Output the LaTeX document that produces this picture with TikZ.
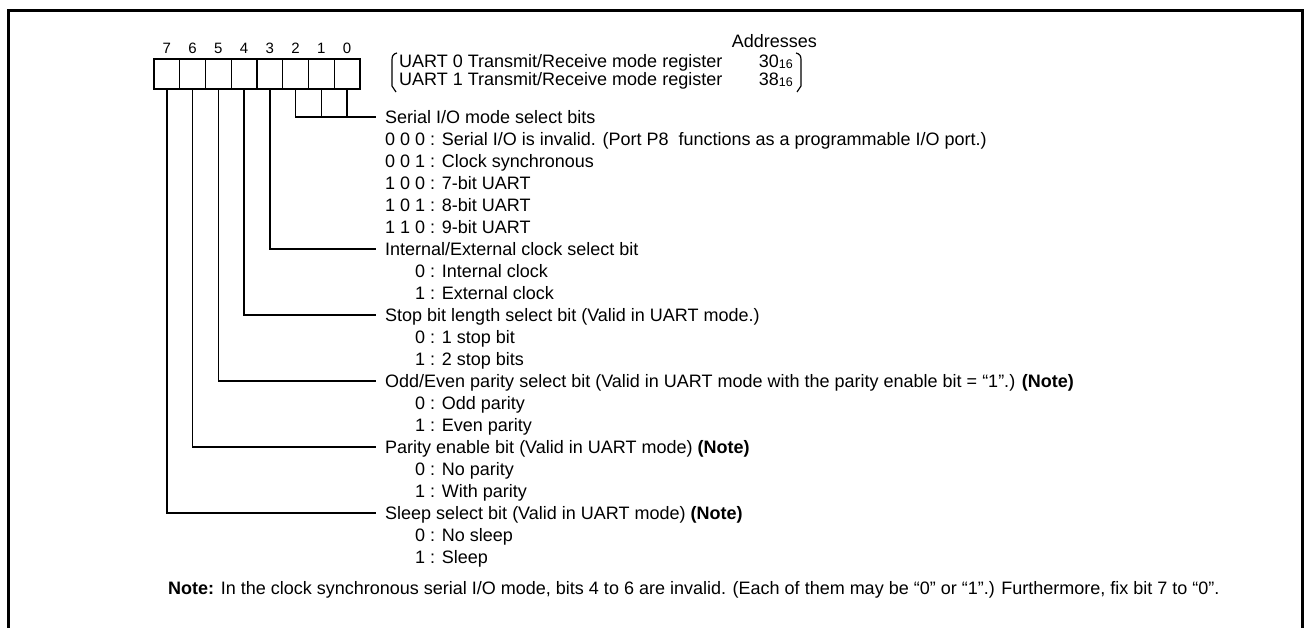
\documentclass[tikz,border=0pt]{standalone}
\usepackage{fontspec}
\setmainfont{Liberation Sans}
\newcommand\hexsub[1]{\raisebox{-0.05em}{\fontsize{12.5}{12.5}\selectfont #1}}
\tikzset{
  cell/.style={draw, line width=1.4pt, minimum width=25.75pt, minimum height=30pt, inner sep=0pt},
  bitnum/.style={inner sep=0pt, font=\fontsize{15}{15}\selectfont, text height=10.5pt, text depth=0pt},
  lab/.style={anchor=west, inner sep=0pt, text height=12.8pt, text depth=0pt, font=\fontsize{18}{21}\selectfont},
  rlab/.style={anchor=east, inner sep=0pt, text height=12.8pt, text depth=0pt, font=\fontsize{18}{21}\selectfont},
  wire/.style={line width=1.4pt},
}
\begin{document}
\begin{tikzpicture}[x=1pt,y=-1pt]
\useasboundingbox (0,0) rectangle (1305,627);
\clip (0,0) rectangle (1305,627);
% frame
\draw[line width=3pt] (8,10) rectangle (1302,680);
% register cells
\foreach \i in {0,...,7} {
  \node[cell] (b\i) at ({154+25.75*(7-\i)+12.875},74) {};
  \node[bitnum] (n\i) at ({154+25.75*(7-\i)+12.875},48) {\i};
}
% addresses
\node[rlab] (addr) at (817,41) {Addresses};
\node[lab] (u0) at (399,61) {UART 0 Transmit/Receive mode register};
\node[lab] (u1) at (399,79) {UART 1 Transmit/Receive mode register};
\node[rlab] (a0) at (793,61) {30\hexsub{16}};
\node[rlab] (a1) at (793,79) {38\hexsub{16}};
\draw[line width=1.2pt] (397,53) .. controls (393,54) and (392,56) .. (392,60) -- (392,86) -- (396,92);
\draw[line width=1.2pt] (796,53) .. controls (800,54) and (801,56) .. (801,60) -- (801,86) -- (797,92);
% labels
\node[lab] (h0) at (385,117) {Serial I/O mode select bits};
\node[lab] (o01) at (385,139) {0 0 0 : Serial I/O is invalid. (Port P8\ \ functions as a programmable I/O port.)};
\node[lab] (o02) at (385,161) {0 0 1 : Clock synchronous};
\node[lab] (o03) at (385,183) {1 0 0 : 7-bit UART};
\node[lab] (o04) at (385,205) {1 0 1 : 8-bit UART};
\node[lab] (o05) at (385,227) {1 1 0 : 9-bit UART};
\node[lab] (h3) at (385,249) {Internal/External clock select bit};
\node[lab] (o31) at (415,271) {0 : Internal clock};
\node[lab] (o32) at (415,293) {1 : External clock};
\node[lab] (h4) at (385,315) {Stop bit length select bit (Valid in UART mode.)};
\node[lab] (o41) at (415,337) {0 : 1 stop bit};
\node[lab] (o42) at (415,359) {1 : 2 stop bits};
\node[lab] (h5) at (385,381) {Odd/Even parity select bit (Valid in UART mode with the parity enable bit = “1”.) \textbf{(Note)}};
\node[lab] (o51) at (415,403) {0 : Odd parity};
\node[lab] (o52) at (415,425) {1 : Even parity};
\node[lab] (h6) at (385,447) {Parity enable bit (Valid in UART mode) \textbf{(Note)}};
\node[lab] (o61) at (415,469) {0 : No parity};
\node[lab] (o62) at (415,491) {1 : With parity};
\node[lab] (h7) at (385,513) {Sleep select bit (Valid in UART mode) \textbf{(Note)}};
\node[lab] (o71) at (415,535) {0 : No sleep};
\node[lab] (o72) at (415,557) {1 : Sleep};
\node[lab] (note) at (168,588) {\textbf{Note:} In the clock synchronous serial I/O mode, bits 4 to 6 are invalid. (Each of them may be “0” or “1”.) Furthermore, fix bit 7 to “0”.};
% connectors
\draw[wire] (b2.south) |- ([xshift=-9pt]h0.west);
\draw[wire] (b1.south) -- (b1.south |- h0.west);
\draw[wire] (b0.south) -- (b0.south |- h0.west);
\foreach \i in {3,...,7} \draw[wire] (b\i.south) |- ([xshift=-9pt]h\i.west);
\end{tikzpicture}
\end{document}
